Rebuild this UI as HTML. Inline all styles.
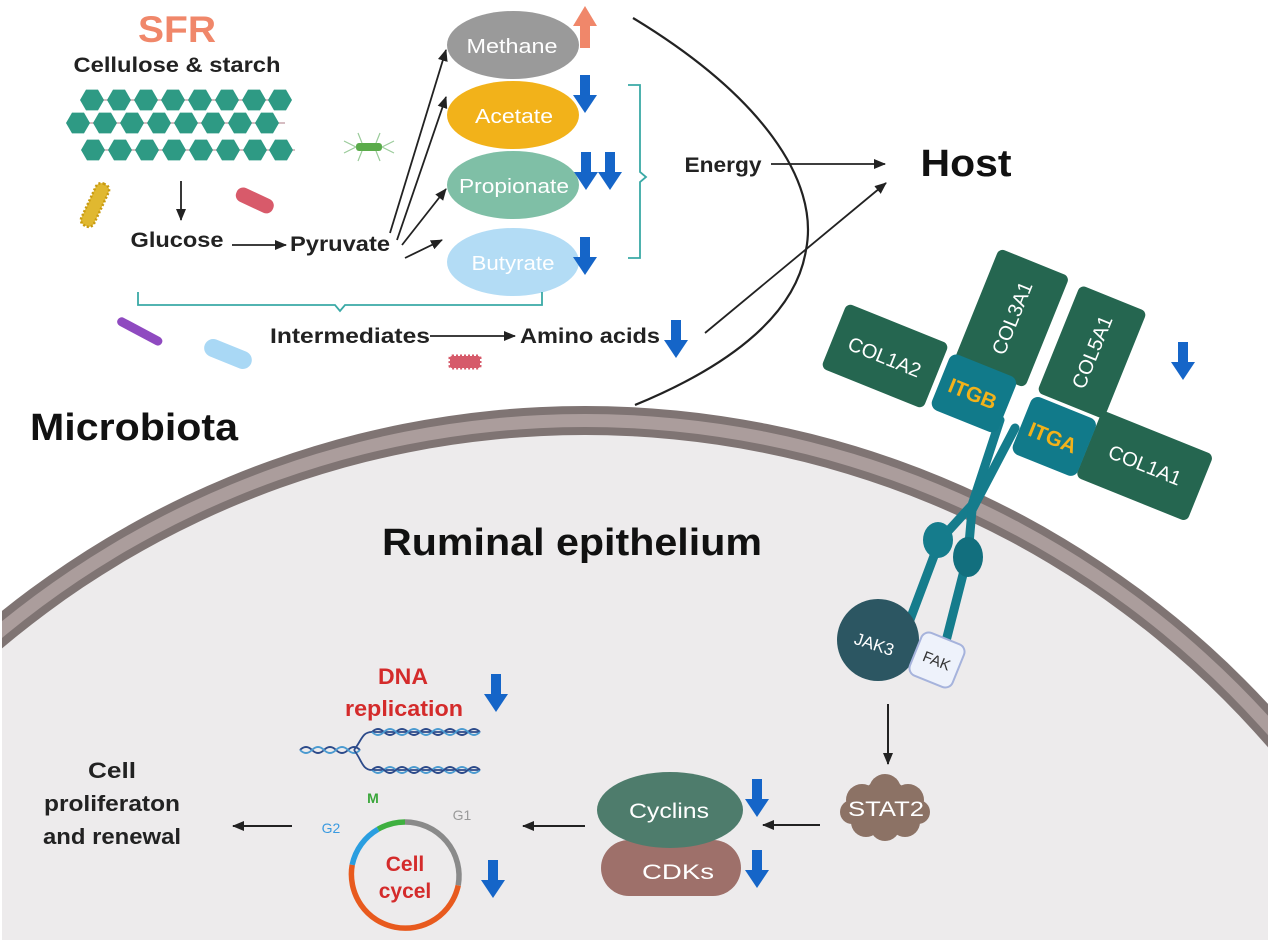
<!DOCTYPE html>
<html><head><meta charset="utf-8"><style>
html,body{margin:0;padding:0;background:#fff;overflow:hidden}
svg{display:block}
text{font-family:"Liberation Sans",sans-serif}
</style></head><body>
<svg width="1268" height="944" viewBox="0 0 1268 944" xmlns="http://www.w3.org/2000/svg">
<defs>
<polygon id="hx" points="12,0 6,10.4 -6,10.4 -12,0 -6,-10.4 6,-10.4" fill="#2e9a84"/>
<marker id="ah" markerWidth="13" markerHeight="12" refX="11" refY="6" orient="auto" markerUnits="userSpaceOnUse"><path d="M0,1 L12,6 L0,11 Z" fill="#222"/></marker>
<g id="bd"><rect x="-5" y="-18" width="10" height="22" fill="#1565c8"/><path d="M-12,2 L12,2 L0,20 Z" fill="#1565c8"/></g>
</defs>
<rect width="1268" height="944" fill="#fff"/>
<clipPath id="cp"><rect x="2" y="0" width="1266" height="940"/></clipPath>
<g clip-path="url(#cp)">
<circle cx="585" cy="1338" r="932" fill="#7f7473"/>
<circle cx="585" cy="1338" r="924" fill="#ab9d9c"/>
<circle cx="585" cy="1338" r="911" fill="#7f7473"/>
<circle cx="585" cy="1338" r="903" fill="#edebec"/>
</g>
<path d="M633,18 C760,95 820,180 806,250 C795,320 720,370 635,405" fill="none" stroke="#222" stroke-width="2.2"/>

<text x="177" y="42" font-size="37" font-weight="bold" fill="#f0876a" text-anchor="middle" textLength="78" lengthAdjust="spacingAndGlyphs">SFR</text>
<text x="177" y="72" font-size="21" font-weight="bold" fill="#222" text-anchor="middle" textLength="207" lengthAdjust="spacingAndGlyphs">Cellulose &amp; starch</text>
<g>
<path d="M92,100 H290 M78,123 H285 M93,150 H295" stroke="#c9a7ad" stroke-width="1.5"/>
<use href="#hx" x="92" y="100"/><use href="#hx" x="119" y="100"/><use href="#hx" x="146" y="100"/><use href="#hx" x="173" y="100"/><use href="#hx" x="200" y="100"/><use href="#hx" x="227" y="100"/><use href="#hx" x="254" y="100"/><use href="#hx" x="280" y="100"/>
<use href="#hx" x="78" y="123"/><use href="#hx" x="105" y="123"/><use href="#hx" x="132" y="123"/><use href="#hx" x="159" y="123"/><use href="#hx" x="186" y="123"/><use href="#hx" x="213" y="123"/><use href="#hx" x="240" y="123"/><use href="#hx" x="267" y="123"/>
<use href="#hx" x="93" y="150"/><use href="#hx" x="120" y="150"/><use href="#hx" x="147" y="150"/><use href="#hx" x="174" y="150"/><use href="#hx" x="201" y="150"/><use href="#hx" x="228" y="150"/><use href="#hx" x="255" y="150"/><use href="#hx" x="281" y="150"/>
</g>
<rect x="88" y="182" width="14" height="46" rx="6" fill="#e0b830" stroke="#c89a10" stroke-width="2.5" stroke-dasharray="2 2" transform="rotate(25 95 205)"/>
<rect x="235" y="193" width="40" height="15" rx="7" fill="#d85a6a" transform="rotate(25 255 200)"/>
<rect x="356" y="143" width="26" height="8" rx="3" fill="#5aab4a"/>
<path d="M356,147 l-12,-6 M356,147 l-12,6 M382,147 l12,-6 M382,147 l12,6 M362,143 l-4,-10 M376,143 l4,-10 M362,151 l-4,10 M376,151 l4,10" stroke="#9acb9a" stroke-width="1.2" fill="none"/>
<rect x="115" y="327" width="50" height="9" rx="4.5" fill="#8f4ac0" transform="rotate(28 140 331)"/>
<rect x="203" y="345" width="50" height="18" rx="9" fill="#a9d8f5" transform="rotate(22 228 354)"/>
<rect x="450" y="356" width="30" height="12" rx="2" fill="#d65a6a" stroke="#d65a6a" stroke-dasharray="2 2" stroke-width="3"/>

<line x1="181" y1="181" x2="181" y2="220" stroke="#222" stroke-width="1.8" marker-end="url(#ah)"/>
<text x="177" y="247" font-size="21" font-weight="bold" fill="#222" text-anchor="middle" textLength="93" lengthAdjust="spacingAndGlyphs">Glucose</text>
<line x1="232" y1="245" x2="286" y2="245" stroke="#222" stroke-width="1.8" marker-end="url(#ah)"/>
<text x="340" y="251" font-size="21" font-weight="bold" fill="#222" text-anchor="middle" textLength="100" lengthAdjust="spacingAndGlyphs">Pyruvate</text>
<g stroke="#222" stroke-width="1.8" marker-end="url(#ah)">
<line x1="390" y1="233" x2="446" y2="50"/>
<line x1="397" y1="240" x2="446" y2="97"/>
<line x1="402" y1="245" x2="446" y2="189"/>
<line x1="405" y1="258" x2="442" y2="240"/>
</g>
<ellipse cx="513" cy="45" rx="66" ry="34" fill="#9a9a9a"/>
<text x="512" y="53" font-size="20" fill="#fff" text-anchor="middle" textLength="91" lengthAdjust="spacingAndGlyphs">Methane</text>
<ellipse cx="513" cy="115" rx="66" ry="34" fill="#f2b21a"/>
<text x="514" y="123" font-size="20" fill="#fff" text-anchor="middle" textLength="78" lengthAdjust="spacingAndGlyphs">Acetate</text>
<ellipse cx="513" cy="185" rx="66" ry="34" fill="#7fbfa6"/>
<text x="514" y="193" font-size="20" fill="#fff" text-anchor="middle" textLength="110" lengthAdjust="spacingAndGlyphs">Propionate</text>
<ellipse cx="513" cy="262" rx="66" ry="34" fill="#b3dcf5"/>
<text x="513" y="270" font-size="20" fill="#fff" text-anchor="middle" textLength="83" lengthAdjust="spacingAndGlyphs">Butyrate</text>
<rect x="580" y="24" width="10" height="24" fill="#f0876a"/><path d="M573,26 L597,26 L585,6 Z" fill="#f0876a"/>
<use href="#bd" x="585" y="93"/>
<use href="#bd" x="586" y="170"/><use href="#bd" x="610" y="170"/>
<use href="#bd" x="585" y="255"/>
<path d="M628,85 H640 V172 L646,177 L640,182 V258 H628" fill="none" stroke="#3aa9a6" stroke-width="1.8"/>
<text x="723" y="172" font-size="21" font-weight="bold" fill="#222" text-anchor="middle" textLength="77" lengthAdjust="spacingAndGlyphs">Energy</text>
<line x1="771" y1="164" x2="885" y2="164" stroke="#222" stroke-width="1.8" marker-end="url(#ah)"/>
<text x="966" y="176" font-size="38" font-weight="bold" fill="#111" text-anchor="middle" textLength="91" lengthAdjust="spacingAndGlyphs">Host</text>
<line x1="705" y1="333" x2="886" y2="183" stroke="#222" stroke-width="1.8" marker-end="url(#ah)"/>
<path d="M138,292 V305 H335 L340,311 L345,305 H542 V292" fill="none" stroke="#3aa9a6" stroke-width="1.8"/>
<text x="350" y="343" font-size="21" font-weight="bold" fill="#222" text-anchor="middle" textLength="160" lengthAdjust="spacingAndGlyphs">Intermediates</text>
<line x1="430" y1="336" x2="515" y2="336" stroke="#222" stroke-width="1.8" marker-end="url(#ah)"/>
<text x="590" y="343" font-size="21" font-weight="bold" fill="#222" text-anchor="middle" textLength="140" lengthAdjust="spacingAndGlyphs">Amino acids</text>
<use href="#bd" x="676" y="338"/>
<text x="134" y="440" font-size="38" font-weight="bold" fill="#111" text-anchor="middle" textLength="208" lengthAdjust="spacingAndGlyphs">Microbiota</text>
<text x="572" y="555" font-size="38" font-weight="bold" fill="#111" text-anchor="middle" textLength="380" lengthAdjust="spacingAndGlyphs">Ruminal epithelium</text>

<g fill="none" stroke="#157c8c" stroke-width="9" stroke-linecap="round">
<path d="M1000,420 L972,505 L940,540 L908,625"/>
<path d="M1015,428 L972,510 L968,555 L945,645"/>
</g>
<ellipse cx="938" cy="540" rx="15" ry="18" fill="#157c8c"/>
<ellipse cx="968" cy="557" rx="15" ry="20" fill="#126f7e"/>
<g transform="rotate(22 885 356)"><rect x="830" y="321" width="110" height="70" rx="6" fill="#256650"/><text x="885" y="364" font-size="20" fill="#fff" text-anchor="middle">COL1A2</text></g>
<g transform="rotate(22 1012 318)"><rect x="974" y="258" width="76" height="120" rx="6" fill="#256650"/><text x="1012" y="325" font-size="20" fill="#fff" text-anchor="middle" transform="rotate(-90 1012 318)">COL3A1</text></g>
<g transform="rotate(22 1092 352)"><rect x="1056" y="294" width="72" height="116" rx="6" fill="#256650"/><text x="1092" y="359" font-size="20" fill="#fff" text-anchor="middle" transform="rotate(-90 1092 352)">COL5A1</text></g>
<g transform="rotate(22 1145 465)"><rect x="1085" y="430" width="120" height="72" rx="6" fill="#256650"/><text x="1145" y="472" font-size="20" fill="#fff" text-anchor="middle">COL1A1</text></g>
<g transform="rotate(22 973 393)"><rect x="938" y="363" width="72" height="60" rx="8" fill="#117a8a"/><text x="973" y="401" font-size="21" font-weight="bold" fill="#f2b21a" text-anchor="middle">ITGB</text></g>
<g transform="rotate(22 1053 437)"><rect x="1019" y="405" width="70" height="62" rx="8" fill="#117a8a"/><text x="1053" y="445" font-size="21" font-weight="bold" fill="#f2b21a" text-anchor="middle">ITGA</text></g>
<use href="#bd" x="1183" y="360"/>
<circle cx="878" cy="640" r="41" fill="#2c5662"/>
<text x="874" y="650" font-size="17" fill="#fff" text-anchor="middle" transform="rotate(18 874 645)">JAK3</text>
<g transform="rotate(22 937 660)"><rect x="914" y="637" width="46" height="46" rx="8" fill="#eef2fb" stroke="#a6b3dc" stroke-width="2"/><text x="937" y="666" font-size="15" fill="#333" text-anchor="middle">FAK</text></g>

<line x1="888" y1="704" x2="888" y2="764" stroke="#222" stroke-width="2" marker-end="url(#ah)"/>
<g fill="#8c7265">
<circle cx="885" cy="808" r="28"/><circle cx="862" cy="800" r="16"/><circle cx="908" cy="800" r="16"/><circle cx="866" cy="822" r="15"/><circle cx="905" cy="822" r="15"/><circle cx="885" cy="790" r="16"/><circle cx="885" cy="826" r="15"/><circle cx="852" cy="812" r="12"/><circle cx="918" cy="812" r="12"/>
</g>
<text x="886" y="816" font-size="21" fill="#fff" text-anchor="middle" textLength="76" lengthAdjust="spacingAndGlyphs">STAT2</text>
<line x1="820" y1="825" x2="763" y2="825" stroke="#222" stroke-width="2" marker-end="url(#ah)"/>
<rect x="601" y="840" width="140" height="56" rx="28" fill="#9e706a"/>
<text x="678" y="879" font-size="21" fill="#fff" text-anchor="middle" textLength="72" lengthAdjust="spacingAndGlyphs">CDKs</text>
<ellipse cx="670" cy="810" rx="73" ry="38" fill="#4e7c6c"/>
<text x="669" y="818" font-size="21" fill="#fff" text-anchor="middle" textLength="80" lengthAdjust="spacingAndGlyphs">Cyclins</text>
<use href="#bd" x="757" y="797"/><use href="#bd" x="757" y="868"/>
<line x1="585" y1="826" x2="523" y2="826" stroke="#222" stroke-width="2" marker-end="url(#ah)"/>

<text x="403" y="684" font-size="22" font-weight="bold" fill="#d42b2b" text-anchor="middle" textLength="50" lengthAdjust="spacingAndGlyphs">DNA</text>
<text x="404" y="716" font-size="22" font-weight="bold" fill="#d42b2b" text-anchor="middle" textLength="118" lengthAdjust="spacingAndGlyphs">replication</text>
<use href="#bd" x="496" y="692"/>
<g fill="none" stroke-width="1.8">
<path d="M300,750 q6,-6 12,0 t12,0 t12,0 t12,0 t12,0" stroke="#2c4a8a"/>
<path d="M300,750 q6,6 12,0 t12,0 t12,0 t12,0 t12,0" stroke="#4a9ad0"/>
<path d="M354,750 C362,740 362,732 372,732 H480 M354,750 C362,760 362,770 372,770 H480" stroke="#2c4a8a"/>
<path d="M372,732 q6,-6 12,0 t12,0 t12,0 t12,0 t12,0 t12,0 t12,0 t12,0 t12,0" stroke="#2c4a8a"/>
<path d="M372,732 q6,6 12,0 t12,0 t12,0 t12,0 t12,0 t12,0 t12,0 t12,0 t12,0" stroke="#4a9ad0"/>
<path d="M372,770 q6,6 12,0 t12,0 t12,0 t12,0 t12,0 t12,0 t12,0 t12,0 t12,0" stroke="#4a9ad0"/>
<path d="M372,770 q6,-6 12,0 t12,0 t12,0 t12,0 t12,0 t12,0 t12,0 t12,0 t12,0" stroke="#2c4a8a"/>
</g>
<text x="373" y="803" font-size="14" font-weight="bold" fill="#3aa63a" text-anchor="middle">M</text>
<text x="462" y="820" font-size="14" fill="#999" text-anchor="middle">G1</text>
<text x="331" y="833" font-size="14" fill="#3a9ae0" text-anchor="middle">G2</text>
<g fill="none" stroke-width="5.5">
<path d="M378,829.2 A54,54 0 0 1 405,822" stroke="#3fb040"/>
<path d="M405,822 A54,54 0 0 1 458.2,885.4" stroke="#8a8a8a"/>
<path d="M458.2,885.4 A54,54 0 0 1 352.2,864.8" stroke="#e85a1e"/>
<path d="M352.2,864.8 A54,54 0 0 1 378,829.2" stroke="#2a9ee0"/>
</g>
<text x="405" y="871" font-size="21" font-weight="bold" fill="#d42b2b" text-anchor="middle">Cell</text>
<text x="405" y="898" font-size="21" font-weight="bold" fill="#d42b2b" text-anchor="middle">cycel</text>
<use href="#bd" x="493" y="878"/>
<line x1="292" y1="826" x2="233" y2="826" stroke="#222" stroke-width="2" marker-end="url(#ah)"/>
<text x="112" y="778" font-size="22" font-weight="bold" fill="#222" text-anchor="middle" textLength="48" lengthAdjust="spacingAndGlyphs">Cell</text>
<text x="112" y="811" font-size="22" font-weight="bold" fill="#222" text-anchor="middle" textLength="136" lengthAdjust="spacingAndGlyphs">proliferaton</text>
<text x="112" y="844" font-size="22" font-weight="bold" fill="#222" text-anchor="middle" textLength="138" lengthAdjust="spacingAndGlyphs">and renewal</text>
</svg>
</body></html>
